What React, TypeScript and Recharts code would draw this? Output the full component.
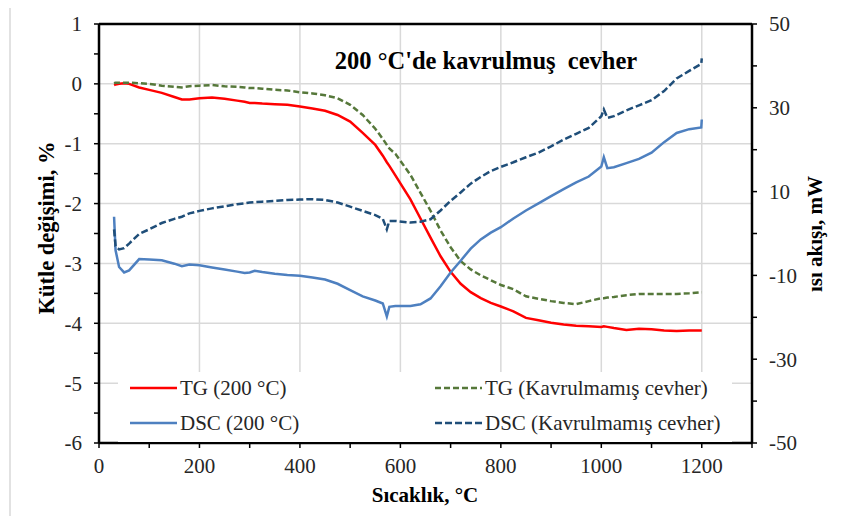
import {
  LineChart,
  Line,
  XAxis,
  YAxis,
  CartesianGrid,
  Legend,
  ReferenceLine,
  Customized,
} from 'recharts';

// Sıcaklık, °C
const temperature = [
  30, 33, 40, 50, 60, 80, 100, 125, 150, 165, 180, 200, 225, 250, 275, 290, 300, 310, 325, 350,
  375, 400, 425, 450, 475, 500, 525, 550, 565, 573, 578, 590, 620, 640, 660, 680, 700, 720, 740,
  760, 780, 800, 825, 850, 875, 900, 925, 950, 975, 1000, 1005, 1012, 1025, 1050, 1075, 1100,
  1125, 1150, 1175, 1199, 1200,
];

// TG (200 °C), %
const tgRoasted = [
  -0.02, -0.01, 0.0, 0.01, 0.0, -0.06, -0.1, -0.15, -0.22, -0.26, -0.26, -0.24, -0.23, -0.25,
  -0.28, -0.3, -0.32, -0.32, -0.33, -0.34, -0.35, -0.38, -0.41, -0.45, -0.52, -0.63, -0.82, -1.02,
  -1.2, -1.31, -1.37, -1.53, -1.93, -2.25, -2.57, -2.88, -3.14, -3.34, -3.48, -3.58, -3.66, -3.72,
  -3.8, -3.91, -3.95, -3.99, -4.02, -4.04, -4.05, -4.06, -4.05, -4.06, -4.08, -4.11, -4.09, -4.1,
  -4.12, -4.13, -4.12, -4.12, -4.12,
];

// TG (Kavrulmamış cevher), %
const tgRaw = [
  0.01, 0.02, 0.02, 0.02, 0.02, 0.01, 0.0, -0.03, -0.05, -0.06, -0.04, -0.03, -0.02, -0.04, -0.05,
  -0.06, -0.07, -0.07, -0.08, -0.1, -0.11, -0.14, -0.16, -0.19, -0.24, -0.35, -0.52, -0.75, -0.92,
  -1.02, -1.08, -1.17, -1.52, -1.82, -2.12, -2.45, -2.73, -2.96, -3.1, -3.2, -3.28, -3.36, -3.43,
  -3.55, -3.59, -3.63, -3.66, -3.68, -3.63, -3.58, -3.58, -3.57, -3.56, -3.53, -3.51, -3.51, -3.51,
  -3.51, -3.5, -3.48, -3.48,
];

// DSC (200 °C), mW
const dscRoasted = [
  4.0, -4.0, -8.0, -9.3, -8.8, -6.1, -6.2, -6.4, -7.2, -7.8, -7.4, -7.6, -8.1, -8.6, -9.1, -9.4,
  -9.3, -8.9, -9.2, -9.6, -9.9, -10.1, -10.5, -11.0, -12.0, -13.5, -15.0, -16.0, -16.7, -19.8,
  -17.5, -17.3, -17.3, -16.9, -15.5, -12.6, -9.3, -6.5, -3.6, -1.4, 0.2, 1.5, 3.6, 5.5, 7.2, 8.9,
  10.6, 12.2, 13.6, 16.0, 18.2, 15.6, 15.8, 16.8, 17.8, 19.3, 21.8, 24.0, 24.9, 25.3, 27.2,
];

// DSC (Kavrulmamış cevher), mW
const dscRaw = [
  1.0, -3.0, -3.8, -3.5, -2.4, -0.1, 1.0, 2.5, 3.5, 4.0, 4.8, 5.4, 6.0, 6.5, 7.0, 7.2, 7.4, 7.5,
  7.6, 7.8, 8.0, 8.1, 8.2, 8.0, 7.4, 6.4, 5.4, 4.4, 3.5, 1.0, 3.0, 3.0, 2.6, 2.8, 3.4, 5.5, 7.8,
  9.8, 11.9, 13.5, 14.9, 15.9, 17.0, 18.2, 19.3, 20.8, 22.4, 23.8, 25.2, 28.0, 29.6, 27.6, 28.0,
  29.4, 30.6, 31.8, 34.0, 37.0, 38.8, 40.5, 41.8,
];

const X_DOMAIN = [0, 1300];
const LEFT_DOMAIN = [-6, 1];
const xTicks = [0, 100, 200, 300, 400, 500, 600, 700, 800, 900, 1000, 1100, 1200, 1300];
const xGrid = [200, 400, 600, 800, 1000, 1200];
const leftTicks = [1, 0.5, 0, -0.5, -1, -1.5, -2, -2.5, -3, -3.5, -4, -4.5, -5, -5.5, -6];
const leftGrid = [1, 0, -1, -2, -3, -4, -5, -6];
const rightTicks = [50, 40, 30, 20, 10, 0, -10, -20, -30, -40, -50];

const data = temperature.map((t, i) => ({
  t,
  tgRoasted: tgRoasted[i],
  tgRaw: tgRaw[i],
  dscRoasted: dscRoasted[i],
  dscRaw: dscRaw[i],
}));

const FONT = '"Liberation Serif", "Times New Roman", serif';
const TICK = { fontFamily: FONT, fontSize: 21, fill: '#262626' };

const legendOrder = ['tgRoasted', 'tgRaw', 'dscRoasted', 'dscRaw'];

const renderLegend = (props: any) => {
  const items = [...(props.payload || [])].sort(
    (a: any, b: any) => legendOrder.indexOf(a.dataKey) - legendOrder.indexOf(b.dataKey)
  );
  return (
    <div style={{ position: 'relative', width: 614, height: 70, background: '#fff' }}>
      {items.map((item: any, i: number) => {
        const col = i % 2;
        const row = Math.floor(i / 2);
        const left = col === 0 ? 12 : 317;
        const top = row === 0 ? 16 : 51;
        return (
          <div
            key={item.dataKey}
            style={{
              position: 'absolute',
              left,
              top: top - 13,
              height: 26,
              display: 'flex',
              alignItems: 'center',
              whiteSpace: 'nowrap',
            }}
          >
            <svg width={47} height={26}>
              <line
                x1={0}
                x2={47}
                y1={13}
                y2={13}
                stroke={item.color}
                strokeWidth={2.5}
                strokeDasharray={item.payload?.strokeDasharray}
              />
            </svg>
            <span style={{ fontFamily: FONT, fontSize: 21, color: '#262626', marginLeft: 3 }}>
              {item.value}
            </span>
          </div>
        );
      })}
    </div>
  );
};

const Decorations = () => (
  <g>
    <rect x={10} y={5} width={900} height={600} fill="none" stroke="#d9d9d9" strokeWidth={1.5} />
    <text
      x={486}
      y={69}
      textAnchor="middle"
      style={{ whiteSpace: 'pre' }}
      fontFamily={FONT}
      fontWeight="bold"
      fontSize={24.5}
      fill="#000"
    >
      {"200 °C'de kavrulmuş  cevher"}
    </text>
    <text
      x={425}
      y={502}
      textAnchor="middle"
      fontFamily={FONT}
      fontWeight="bold"
      fontSize={21}
      fill="#000"
    >
      Sıcaklık, °C
    </text>
    <text
      transform="translate(54,228) rotate(-90)"
      textAnchor="middle"
      fontFamily={FONT}
      fontWeight="bold"
      fontSize={22.5}
      fill="#000"
    >
      Kütle değişimi, %
    </text>
    <text
      transform="translate(822,234) rotate(-90)"
      textAnchor="middle"
      fontFamily={FONT}
      fontWeight="bold"
      fontSize={21}
      fill="#000"
    >
      ısı akışı, mW
    </text>
  </g>
);

// grid only at the labelled values, mapped through the plot offset
const hGrid = ({ offset }: any) =>
  leftGrid.map(
    (v) =>
      offset.top +
      ((LEFT_DOMAIN[1] - v) / (LEFT_DOMAIN[1] - LEFT_DOMAIN[0])) * offset.height
  );
const vGrid = ({ offset }: any) =>
  xGrid.map(
    (v) => offset.left + ((v - X_DOMAIN[0]) / (X_DOMAIN[1] - X_DOMAIN[0])) * offset.width
  );

export default function App() {
  return (
    <div style={{ margin: -8, width: 843, height: 524, background: '#fff' }}>
      <LineChart
        width={843}
        height={524}
        data={data}
        margin={{ top: 24, right: 40, left: 40, bottom: 51 }}
      >
        <CartesianGrid
          stroke="#d9d9d9"
          strokeWidth={1.5}
          horizontalCoordinatesGenerator={hGrid}
          verticalCoordinatesGenerator={vGrid}
        />
        <XAxis
          dataKey="t"
          type="number"
          domain={X_DOMAIN}
          ticks={xTicks}
          tickFormatter={(v: number) => (v % 200 === 0 && v <= 1200 ? String(v) : '')}
          height={30}
          tick={TICK}
          tickSize={5}
          tickMargin={10}
          axisLine={{ stroke: '#000', strokeWidth: 2.5 }}
          tickLine={{ stroke: '#000', strokeWidth: 1.5 }}
          interval={0}
        />
        <YAxis
          yAxisId="left"
          type="number"
          domain={LEFT_DOMAIN}
          ticks={leftTicks}
          tickFormatter={(v: number) => (Number.isInteger(v) ? String(v) : '')}
          width={59}
          tick={TICK}
          tickSize={5}
          tickMargin={12}
          axisLine={{ stroke: '#000', strokeWidth: 2.5 }}
          tickLine={{ stroke: '#000', strokeWidth: 1.5 }}
          interval={0}
        />
        <YAxis
          yAxisId="right"
          orientation="right"
          type="number"
          domain={[-50, 50]}
          ticks={rightTicks}
          tickFormatter={(v: number) => (Math.abs(v) % 20 === 10 ? String(v) : '')}
          width={51}
          tick={{ ...TICK, textAnchor: 'start' }}
          tickSize={5}
          tickMargin={12}
          axisLine={{ stroke: '#000', strokeWidth: 2.5 }}
          tickLine={{ stroke: '#000', strokeWidth: 1.5 }}
          interval={0}
        />
        <ReferenceLine yAxisId="left" y={1} stroke="#000" strokeWidth={2.5} />
        <Line
          yAxisId="left"
          dataKey="tgRoasted"
          name="TG (200 °C)"
          stroke="#ff0000"
          strokeWidth={2.5}
          dot={false}
          isAnimationActive={false}
        />
        <Line
          yAxisId="left"
          dataKey="tgRaw"
          name="TG (Kavrulmamış cevher)"
          stroke="#56783a"
          strokeWidth={2.5}
          strokeDasharray="6 3"
          dot={false}
          isAnimationActive={false}
        />
        <Line
          yAxisId="right"
          dataKey="dscRoasted"
          name="DSC (200 °C)"
          stroke="#4e80c0"
          strokeWidth={2.5}
          dot={false}
          isAnimationActive={false}
        />
        <Line
          yAxisId="right"
          dataKey="dscRaw"
          name="DSC (Kavrulmamış cevher)"
          stroke="#1f4e79"
          strokeWidth={2.5}
          strokeDasharray="7 3"
          dot={false}
          isAnimationActive={false}
        />
        <Legend
          layout="horizontal"
          verticalAlign="middle"
          align="center"
          content={renderLegend}
          wrapperStyle={{ left: 118, top: 372, width: 614, height: 70 }}
        />
        <Customized component={Decorations} />
      </LineChart>
    </div>
  );
}
